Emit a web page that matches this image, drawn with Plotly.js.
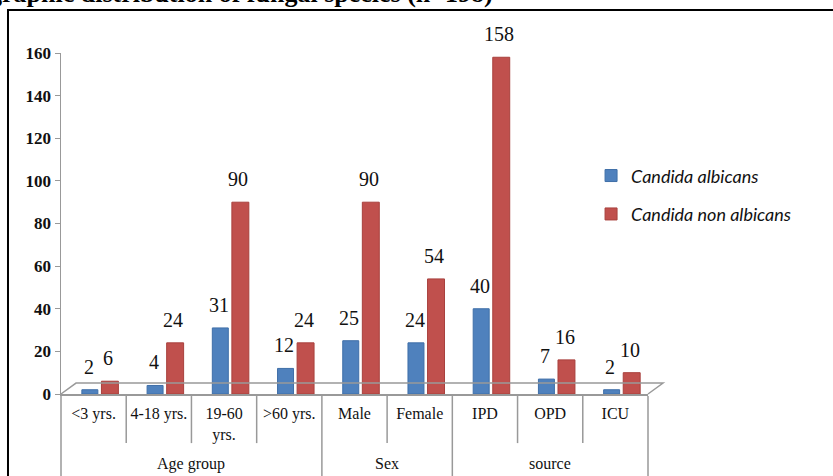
<!DOCTYPE html>
<html>
<head>
<meta charset="utf-8">
<script src="https://cdn.plot.ly/plotly-3.0.1.min.js"></script>
<style>html,body{margin:0;padding:0;background:#fff;}#chart{width:833px;height:476px;}</style>
</head>
<body>
<div id="chart"></div>
<script>
const groups = ["Age group","Age group","Age group","Age group","Sex","Sex","source","source","source"];
const categories = ["<3 yrs.","4-18 yrs.","19-60<br>yrs.",">60 yrs.","Male","Female","IPD","OPD","ICU"];
const albicans = [2,4,31,12,25,24,40,7,2];
const nonAlbicans = [6,24,90,24,90,54,158,16,10];
const seriesNames = ["Candida albicans","Candida non albicans"];
const yTicks = [0,20,40,60,80,100,120,140,160];

const serif = "'Liberation Serif','Times New Roman',serif";
const n = categories.length;

const blueOffset = -0.18, blueWidth = 0.245, redOffset = 0.12, redWidth = 0.26;

const traces = [
  {type:'bar', x:categories, y:albicans, name:'<i>'+seriesNames[0]+'</i>', legendgroup:'a',
   offset:blueOffset, width:blueWidth,
   marker:{color:'#4f81bd', line:{color:'#3f6fa8', width:1}}},
  {type:'bar', x:categories, y:nonAlbicans, name:'<i>'+seriesNames[1]+'</i>', legendgroup:'b',
   offset:redOffset, width:redWidth,
   marker:{color:'#c0504d', line:{color:'#a8403d', width:1}}}
];

const labelFont = {family:serif, size:20, color:'#111'};
const annotations = [
  {xref:'paper', yref:'paper', x:(495-61)/587, y:1.174, xanchor:'right', yanchor:'middle',
   text:'<b>Demographic distribution of fungal species (n=198)</b>', showarrow:false,
   font:{family:serif, size:26, color:'#000'}}
];
albicans.forEach((v,i)=>annotations.push({x:i+blueOffset+blueWidth/2-0.02, y:v, xref:'x', yref:'y',
  text:String(v), showarrow:false, yanchor:'middle', yshift:23, font:labelFont}));
nonAlbicans.forEach((v,i)=>annotations.push({x:i+redOffset+redWidth/2-0.03, y:v, xref:'x', yref:'y',
  text:String(v), showarrow:false, yanchor:'middle', yshift:23, font:labelFont}));

// group labels and dividers derived from the groups array
const shapes = [
  {type:'path', xref:'paper', yref:'paper', path:'M 0 0 L 0.0256 0.032 L 1.0256 0.032 L 1 0',
   line:{color:'#999', width:1.5}},
  {type:'rect', xref:'paper', yref:'paper', x0:-0.0903, x1:1.33, y0:-0.26, y1:1.126,
   line:{color:'#000', width:2}, layer:'below'}
];
for (let k = 0; k <= n; k++) {
  const outer = (k === 0 || k === n || groups[k] !== groups[k-1]);
  shapes.push({type:'line', xref:'paper', yref:'paper', x0:k/n, x1:k/n,
    y0:-0.006, y1: outer ? -0.25 : -0.144, line:{color:'#999', width:1.5}});
}
let start = 0;
for (let i = 1; i <= n; i++) {
  if (i === n || groups[i] !== groups[start]) {
    annotations.push({xref:'paper', yref:'paper', x:(start+i)/2/n, y:-0.205,
      xanchor:'center', yanchor:'middle', showarrow:false, text:groups[start],
      font:{family:serif, size:16, color:'#111'}});
    start = i;
  }
}

const layout = {
  width:833, height:476,
  margin:{l:61, r:185, t:53, b:82},
  paper_bgcolor:'#fff', plot_bgcolor:'#fff',
  barmode:'group',
  showlegend:true,
  legend:{x:0.903, y:0.694, xanchor:'left', yanchor:'top',
          font:{family:"Lato,'Open Sans',sans-serif", size:18, color:'#111'},
          tracegroupgap:12, bgcolor:'rgba(0,0,0,0)'},
  xaxis:{type:'category', range:[-0.5, n-0.5], showline:true, linecolor:'#999', linewidth:1.5,
         ticklabelstandoff:4,
         tickfont:{family:serif, size:16, color:'#111'}, showgrid:false, ticks:''},
  yaxis:{range:[0,160], tickvals:yTicks, showline:true, linecolor:'#999', linewidth:1.5,
         ticks:'outside', ticklen:5, tickcolor:'#999', showgrid:false, zeroline:false,
         tickfont:{family:serif, size:17, color:'#111', weight:'bold'}},
  shapes:shapes,
  annotations:annotations
};

Plotly.newPlot('chart', traces, layout, {displayModeBar:false, staticPlot:true});
</script>
</body>
</html>
